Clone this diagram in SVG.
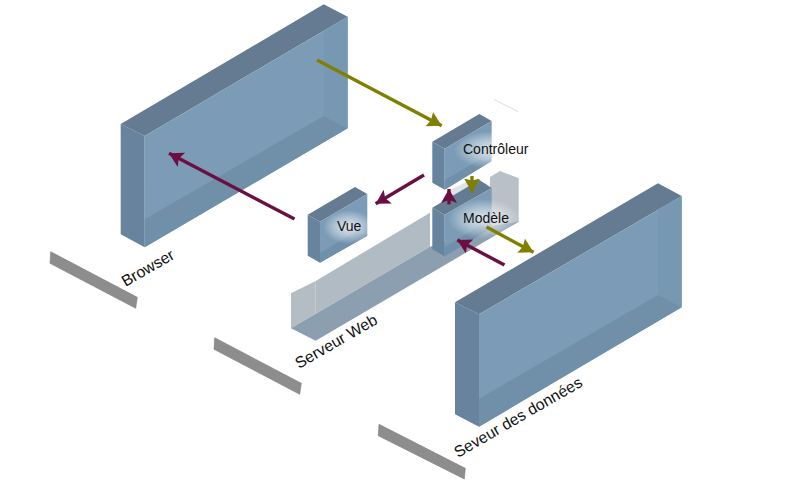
<svg xmlns="http://www.w3.org/2000/svg" width="800" height="480" viewBox="0 0 800 480">
<style>
.top{fill:#647b92}
.side{fill:#67839d}
.front{fill:#7b9bb6}
.floor{fill:#7090aa}
.wall{fill:#7798b3}
.band{fill:#8d8d8d;stroke:#7c7c7c;stroke-width:.6}
.lbl{font-family:"Liberation Sans",Arial,sans-serif;font-size:14px;fill:#111}
.rot{font-size:15.8px}
.ol{stroke:#808000;stroke-width:3.4;fill:none;marker-end:url(#ho)}
.ma{stroke:#6b0f43;stroke-width:3.4;fill:none;marker-end:url(#hm)}
</style>
<defs>
<marker id="ho" markerUnits="userSpaceOnUse" markerWidth="18" markerHeight="18" refX="14" refY="8" orient="auto"><path d="M0 0L14 8L0 16L2 8Z" fill="#808000"/></marker>
<marker id="hm" markerUnits="userSpaceOnUse" markerWidth="18" markerHeight="18" refX="14" refY="8" orient="auto"><path d="M0 0L14 8L0 16L3 8Z" fill="#6b0f43"/></marker>
<radialGradient id="glow"><stop offset="0" stop-color="#fff" stop-opacity=".75"/><stop offset=".55" stop-color="#fff" stop-opacity=".4"/><stop offset="1" stop-color="#fff" stop-opacity="0"/></radialGradient>
</defs>
<rect width="800" height="480" fill="#fff"/>

<g id="browser">
<polygon class="top" points="120.7,124 323.7,4.3 347.7,16.7 144.7,136"/>
<polygon class="side" points="120.7,124 144.7,136 144.7,247.3 120.7,234.3"/>
<polygon class="front" points="144.7,136 347.7,16.7 347.7,128.3 144.7,247.3"/>
<polygon class="floor" points="144.7,219.3 323.7,116 347.7,128.3 144.7,247.3"/>
<polygon class="wall" points="323.7,31 347.7,16.7 347.7,128.3 323.7,116"/>
<polygon class="band" points="50.7,251.7 137.3,297.3 135.7,308.3 50,263.3"/>
<text class="lbl rot" transform="translate(125.5,287) rotate(-30)">Browser</text>
</g>

<g id="serveur-web">
<polygon fill="#b9c0c8" points="490,177 500,171 518.7,178.3 518.7,221.7 490,238"/>
<polygon fill="#b1bbc3" points="315.7,281 430,212.7 430,246.7 315.7,313.8"/>
<polygon fill="#b4bcc4" points="291,293.3 315.7,281 315.7,313.8 291,328.3"/>
<polygon fill="#8c9fb0" points="291,328.3 430,246.7 491.7,226 518.7,221.7 315.7,340.7"/>
<polygon fill="#dfe5ea" points="450,190 470,180 488,184 456,204"/>
<polygon class="band" points="214.7,337.7 301.3,383.3 299.7,394.3 214,349.3"/>
<text class="lbl rot" transform="translate(299,369) rotate(-30)">Serveur Web</text>
</g>

<g id="controleur">
<polygon class="top" points="432.3,141.7 479.3,114 491.7,121 444.7,148.7"/>
<polygon class="side" points="432.3,141.7 444.7,148.7 444.7,189.7 432.3,182.7"/>
<polygon class="front" points="444.7,148.7 491.7,121 491.7,161 444.7,189.7"/>
<polygon class="floor" points="444.7,180 479.3,160 491.7,161 444.7,189.7"/>
<ellipse cx="492" cy="150" rx="38" ry="19" fill="url(#glow)"/>
<text class="lbl" x="463" y="154">Contrôleur</text>
</g>

<g id="modele">
<polygon class="top" points="432.3,207.7 479.3,180 491.7,188 444.7,214.7"/>
<polygon class="side" points="432.3,207.7 444.7,214.7 444.7,256.3 432.3,249.3"/>
<polygon class="front" points="444.7,214.7 491.7,188 491.7,228 444.7,256.3"/>
<polygon class="floor" points="444.7,247 479.3,226 491.7,228 444.7,256.3"/>
<ellipse cx="484" cy="219" rx="36" ry="20" fill="url(#glow)"/>
<text class="lbl" x="463" y="223">Modèle</text>
</g>

<g id="vue">
<polygon class="top" points="307.7,214.7 355,187 367.3,194 320,221.7"/>
<polygon class="side" points="307.7,214.7 320,221.7 320,262.7 307.7,255.7"/>
<polygon class="front" points="320,221.7 367.3,194 367.3,235.7 320,262.7"/>
<polygon class="floor" points="320,253 355,232 367.3,235.7 320,262.7"/>
<ellipse cx="349" cy="227" rx="26" ry="17" fill="url(#glow)"/>
<text class="lbl" x="337" y="231">Vue</text>
</g>

<g id="serveur-donnees">
<polygon class="top" points="455,302.3 658,183.3 681.7,196 479,314.3"/>
<polygon class="side" points="455,302.3 479,314.3 479,426.7 455,414.3"/>
<polygon class="front" points="479,314.3 681.7,196 681.7,307.3 479,426.7"/>
<polygon class="floor" points="479,398.7 658,295 681.7,307.3 479,426.7"/>
<polygon class="wall" points="658,210 681.7,196 681.7,307.3 658,295"/>
<polygon class="band" points="379,424.3 465.3,468.3 464.3,479 378.3,435.7"/>
<text class="lbl rot" transform="translate(458,458) rotate(-30)">Seveur des données</text>
</g>

<g id="connectors">
<line class="ol" x1="317" y1="60" x2="441.7" y2="125.7"/>
<line class="ma" x1="294.5" y1="219" x2="169" y2="153.3"/>
<line class="ma" x1="424" y1="175" x2="375.7" y2="203.7"/>
<line class="ol" x1="472" y1="176" x2="472" y2="192.5"/>
<line class="ma" x1="449" y1="204.3" x2="449" y2="189"/>
<line class="ol" x1="486.5" y1="227" x2="533.5" y2="252.3"/>
<line class="ma" x1="504.5" y1="265" x2="457.3" y2="240"/>
</g>
<line x1="494" y1="99.5" x2="518" y2="111.5" stroke="#c8ccd0" stroke-width=".7"/>
</svg>
